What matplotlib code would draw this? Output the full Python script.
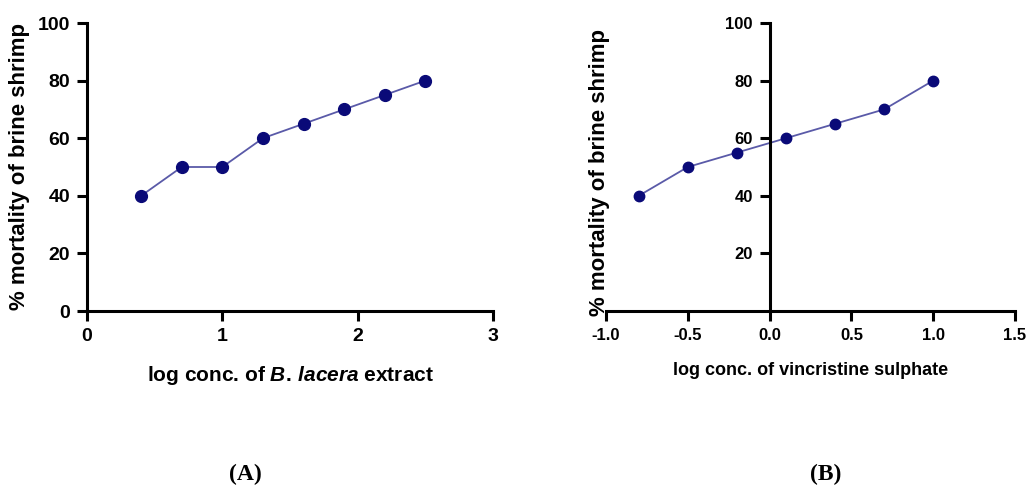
import matplotlib.pyplot as plt
import numpy as np

plt.rcParams["axes.unicode_minus"] = False
plt.rcParams["mathtext.fontset"] = "custom"
plt.rcParams["mathtext.rm"] = "Liberation Sans:bold"
plt.rcParams["mathtext.it"] = "Liberation Sans:italic:bold"
plt.rcParams["mathtext.bf"] = "Liberation Sans:italic:bold"

# panel A: B. lacera extract
xa = [0.4, 0.7, 1.0, 1.3, 1.6, 1.9, 2.2, 2.5]
ya = [40, 50, 50, 60, 65, 70, 75, 80]
# panel B: vincristine sulphate
xb = [-0.8, -0.5, -0.2, 0.1, 0.4, 0.7, 1.0]
yb = [40, 50, 55, 60, 65, 70, 80]

W, H = 1028, 488
fig = plt.figure(figsize=(W / 100, H / 100), dpi=100)

line_c = "#5a5aa8"
dot_c = "#0a0a78"

def px_axes(x0, x1, y0, y1):
    return fig.add_axes([x0 / W, 1 - y1 / H, (x1 - x0) / W, (y1 - y0) / H])

# ---- A
ax1 = px_axes(87, 493, 23, 311)
ax1.plot(xa, ya, "-", color=line_c, lw=1.3, zorder=2)
ax1.plot(xa, ya, "o", color=dot_c, ms=8.5, zorder=3)
ax1.set_xlim(0, 3)
ax1.set_ylim(0, 100)
ax1.set_xticks([0, 1, 2, 3])
ax1.set_yticks([0, 20, 40, 60, 80, 100])
for s in ["top", "right"]:
    ax1.spines[s].set_visible(False)
for s in ["left", "bottom"]:
    ax1.spines[s].set_linewidth(2.2)
ax1.tick_params(width=2.2, length=7, labelsize=14, pad=5)
for t in ax1.get_xticklabels() + ax1.get_yticklabels():
    t.set_fontfamily("Liberation Sans")
    t.set_fontweight("bold")
ax1.set_xlabel(r"log conc. of $\it{B.\,lacera}$ extract", fontsize=15,
               fontweight="bold", family="Liberation Sans", labelpad=14)
ax1.set_ylabel("% mortality of brine shrimp", fontsize=16, fontweight="bold",
               family="Liberation Sans", labelpad=6)

# ---- B
ax2 = px_axes(606, 1015, 23, 311)
ax2.plot(xb, yb, "-", color=line_c, lw=1.3, zorder=2)
ax2.plot(xb, yb, "o", color=dot_c, ms=7.5, zorder=3)
ax2.set_xlim(-1.0, 1.5)
ax2.set_ylim(0, 100)
ax2.set_xticks([-1.0, -0.5, 0.0, 0.5, 1.0, 1.5])
ax2.set_yticks([20, 40, 60, 80, 100])
ax2.spines["left"].set_position(("data", 0))
for s in ["top", "right"]:
    ax2.spines[s].set_visible(False)
for s in ["left", "bottom"]:
    ax2.spines[s].set_linewidth(2.2)
ax2.tick_params(width=2.2, length=7, labelsize=12, pad=5)
for t in ax2.get_xticklabels() + ax2.get_yticklabels():
    t.set_fontfamily("Liberation Sans")
    t.set_fontweight("bold")
ax2.set_xlabel("log conc. of vincristine sulphate", fontsize=13, fontweight="bold",
               family="Liberation Sans", labelpad=14)
fig.text(600 / W, 1 - 172 / H, "% mortality of brine shrimp", rotation=90,
         ha="center", va="center", fontsize=16, fontweight="bold",
         family="Liberation Sans")

# panel tags
fig.text(245 / W, 1 - 474 / H, "(A)", ha="center", va="center", fontsize=17,
         fontweight="bold", family="Liberation Serif")
fig.text(826 / W, 1 - 474 / H, "(B)", ha="center", va="center", fontsize=17,
         fontweight="bold", family="Liberation Serif")

fig.savefig("out.png", dpi=100)
